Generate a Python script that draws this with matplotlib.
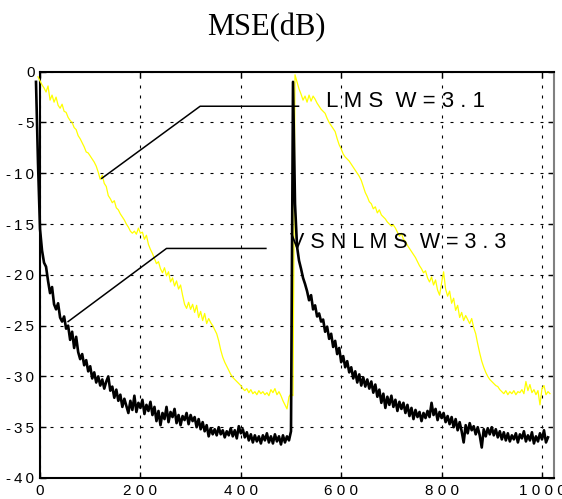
import matplotlib.pyplot as plt
import numpy as np

# sample index for each curve (every 4th sample)
n_vsnlms = np.arange(-8, 1016, 4)
n_lms = np.arange(-4, 1020, 4)

# VSNLMS, W=3.3 (black)
vsnlms_db = [
    -1.0, -9.0, -15.5, -17.6, -18.8, -19.2, -20.6, -21.8, -21.2, -22.9, -23.4, -22.8,
    -24.2, -24.6, -24.1, -25.3, -25.0, -26.4, -25.6, -27.2, -26.1, -27.6, -28.3, -27.8,
    -28.9, -28.4, -29.5, -29.0, -30.2, -29.6, -30.6, -30.0, -30.9, -30.3, -31.2, -30.5,
    -30.0, -31.4, -31.0, -32.1, -31.3, -32.4, -31.8, -33.0, -32.2, -32.9, -33.6, -32.4,
    -33.3, -31.9, -33.5, -32.6, -33.1, -32.3, -33.7, -32.8, -33.4, -32.5, -33.8, -33.0,
    -34.4, -33.4, -34.8, -33.6, -34.2, -33.0, -34.5, -33.5, -34.0, -33.2, -34.6, -33.8,
    -34.8, -33.9, -34.3, -33.6, -34.7, -33.8, -34.4, -34.0, -35.0, -34.2, -35.2, -34.5,
    -35.4, -34.8, -35.9, -35.1, -35.7, -35.2, -35.8, -35.0, -35.7, -35.3, -36.0, -35.4,
    -35.8, -35.1, -35.9, -35.3, -36.1, -34.9, -35.6, -35.2, -36.0, -35.5, -36.3, -35.7,
    -36.5, -35.8, -36.4, -35.9, -36.6, -35.8, -36.3, -35.6, -36.5, -35.9, -36.6, -35.7,
    -36.4, -35.9, -36.7, -35.8, -36.5, -35.9, -36.3, -35.4,
    -1.0, -13.0, -17.2, -18.6, -19.4, -20.3, -20.9, -21.6, -22.5, -22.0, -23.4, -23.0,
    -24.1, -23.8, -24.6, -24.4, -25.6, -25.1, -26.3, -25.8, -27.1, -26.5, -27.8, -27.2,
    -28.6, -28.0, -29.1, -28.5, -29.6, -29.1, -30.2, -29.5, -30.6, -29.8, -30.9, -30.1,
    -31.0, -30.3, -31.2, -30.5, -31.6, -30.8, -32.0, -31.3, -32.6, -31.7, -33.1, -32.0,
    -32.8, -31.9, -33.0, -32.3, -33.4, -32.5, -33.2, -32.6, -33.6, -32.8, -33.9, -33.1,
    -34.2, -33.3, -34.0, -33.5, -34.4, -33.6, -34.1, -33.4, -34.0, -32.6, -33.8, -33.2,
    -34.3, -33.5, -34.1, -33.6, -34.5, -33.9, -34.7, -34.0, -35.0, -34.2, -35.3, -34.5,
    -35.4, -36.5, -34.8, -35.6, -34.6, -35.3, -34.9, -35.7, -35.0, -35.8, -37.0, -35.2,
    -35.9, -35.1, -35.7, -35.0, -35.8, -35.2, -36.0, -35.4, -36.2, -35.5, -36.3, -35.6,
    -36.4, -35.8, -36.2, -35.6, -36.5, -35.7, -36.1, -35.4, -36.4, -35.8, -36.3, -35.5,
    -36.6, -35.9, -36.4, -35.6, -36.2, -35.3, -36.5, -36.0,
]

# LMS, W=3.1 (yellow)
lms_db = [
    -0.5, -0.9, -1.3, -1.6, -2.0, -1.4, -2.8, -2.3, -3.0, -2.5, -3.3, -3.6,
    -3.2, -3.9, -4.0, -4.5, -4.8, -5.0, -5.5, -5.7, -6.3, -6.6, -7.0, -7.4,
    -7.9, -8.0, -8.3, -8.6, -8.9, -9.3, -9.9, -10.6, -10.2, -11.0, -11.3, -12.2,
    -12.5, -12.9, -12.7, -13.4, -13.6, -14.0, -14.3, -14.6, -15.0, -15.3, -15.7, -15.9,
    -15.7, -16.0, -15.4, -15.9, -15.8, -16.5, -16.1, -17.0, -17.5, -17.9, -18.4, -18.9,
    -18.7, -19.4, -19.8, -19.3, -20.1, -19.7, -20.7, -20.3, -21.1, -20.6, -21.4, -21.0,
    -22.0, -22.9, -23.3, -22.7, -23.4, -22.9, -23.7, -23.0, -24.2, -23.6, -24.5, -23.8,
    -24.8, -24.3, -24.7, -25.0, -25.4, -25.8, -26.5, -27.4, -28.1, -28.6, -29.0, -29.4,
    -29.8, -30.1, -30.3, -30.5, -30.7, -30.9, -31.2, -31.4, -31.2, -31.6, -31.3, -31.7,
    -31.5, -31.8, -31.4, -31.7, -31.5, -31.8, -31.6, -31.9, -31.3, -31.6, -31.2, -31.8,
    -31.5, -31.9, -32.4, -32.8, -33.2, -32.0, -31.7, -31.9,
    -0.3, -1.0, -1.7, -2.2, -2.8, -2.4, -3.0, -2.3, -2.9, -2.4, -2.7, -3.1,
    -3.4, -3.7, -3.9, -4.1, -4.6, -5.0, -5.3, -5.6, -5.9, -6.6, -7.2, -7.6,
    -8.1, -8.4, -8.6, -8.8, -9.1, -9.4, -9.7, -10.0, -10.3, -10.7, -11.3, -11.9,
    -12.3, -12.8, -13.0, -13.5, -13.3, -13.9, -13.6, -14.1, -14.3, -14.5, -14.8, -15.0,
    -15.2, -15.1, -15.4, -15.8, -16.2, -15.9, -16.5, -16.7, -17.1, -17.4, -17.7, -18.0,
    -18.3, -18.7, -19.1, -19.4, -19.8, -19.6, -20.3, -20.7, -20.2, -21.0, -20.5, -21.5,
    -22.0, -20.8, -19.7, -21.4, -22.1, -21.6, -22.8, -22.3, -23.5, -23.0, -24.2, -23.7,
    -24.5, -24.0, -24.4, -24.8, -24.3, -25.2, -25.8, -26.8, -27.7, -28.5, -29.1, -29.6,
    -30.0, -30.3, -30.5, -30.7, -30.9, -31.0, -31.3, -31.5, -31.7, -31.4, -31.8, -31.5,
    -31.7, -31.4, -31.8, -31.5, -31.6, -31.3, -31.7, -30.5, -31.4, -30.8, -31.6, -31.3,
    -31.8, -31.4, -32.8, -31.2, -30.9, -31.8, -31.5, -31.7,
]

# leader lines for the two labels
lms_leader_x = [123, 319, 515]
lms_leader_y = [-10.5, -3.4, -3.4]
vsn_leader_x = [56, 252, 450]
vsn_leader_y = [-24.6, -17.4, -17.4]

xticks = [0, 200, 400, 600, 800, 1000]
yticks = [0, -5, -10, -15, -20, -25, -30, -35, -40]


def spaced(s, sep=" "):
    return sep.join(s)


plt.rcParams["font.family"] = ["Liberation Sans", "DejaVu Sans"]

fig = plt.figure(figsize=(5.62, 4.99), dpi=100)
ax = fig.add_axes([0.0712, 0.0421, 0.9146, 0.8142])

ax.plot(n_lms, lms_db, color="#ffff00", lw=0.9, clip_on=False, zorder=3)
ax.plot(n_vsnlms, vsnlms_db, color="black", lw=1.9, clip_on=False, zorder=4)

ax.plot(lms_leader_x, lms_leader_y, color="black", lw=1.1, zorder=5)
ax.plot(vsn_leader_x, vsn_leader_y, color="black", lw=1.1, zorder=5)
ax.text(570, -2.95, "L M S  W = 3 . 1", fontsize=16, ha="left", va="center", zorder=6)
ax.text(498, -16.8, "V S N L M S  W = 3 . 3", fontsize=15.5, ha="left", va="center", zorder=6)

ax.set_xlim(0, 1024)
ax.set_ylim(-40, 0)
ax.set_xticks(xticks)
ax.set_xticklabels([spaced(str(t)) for t in xticks])
ax.set_yticks(yticks)
ax.set_yticklabels([spaced(str(t), "\u2009") for t in yticks])
ax.tick_params(direction="in", length=4, width=1, top=True, right=True,
               labelsize=11, pad=4, labelcolor="black")
ax.grid(True, color="black", lw=0.8, linestyle=(0, (2.7, 6.3)))

for side in ["left", "bottom", "top"]:
    ax.spines[side].set_linewidth(1.5)
    ax.spines[side].set_color("black")
ax.spines["right"].set_linewidth(1.5)
ax.spines["right"].set_color("#808080")

fig.text(266 / 562, 1 - 35 / 499, "MSE(dB)", family="Liberation Serif",
         fontsize=22, ha="center", va="baseline")

fig.savefig("out.png", dpi=100)
